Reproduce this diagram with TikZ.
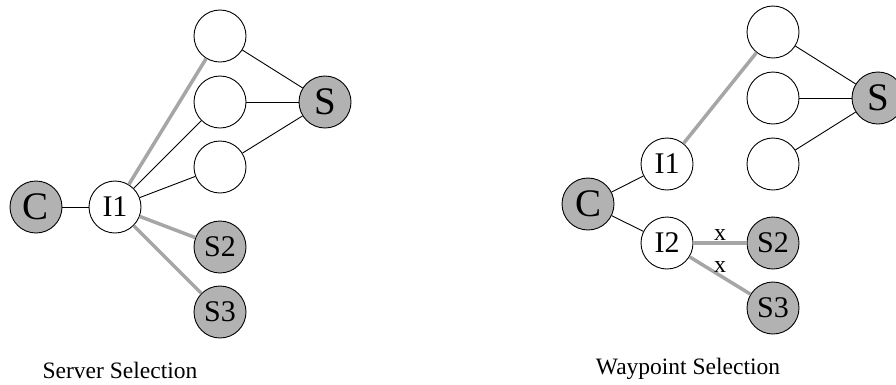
\documentclass[tikz,border=0pt]{standalone}
\usepackage{fontspec}
\setmainfont{Liberation Serif}
\begin{document}
\begin{tikzpicture}[x = 1pt, y = -1pt,
    host/.style = {circle, draw, line width = 0.9pt, minimum size = 52pt, inner sep = 0pt, font = \fontsize{30}{30}\selectfont},
    endhost/.style = {host, fill = gray!60, font = \fontsize{39}{39}\selectfont},
    server/.style = {host, fill = gray!60},
    link/.style = {line width = 0.9pt},
    path/.style = {line width = 3.5pt, gray!70},
    xmark/.style = {pos = 0.5, anchor = south, inner sep = 1pt, black, font = \fontsize{24}{24}\selectfont},
    caption/.style = {anchor = base, font = \fontsize{23.5}{23.5}\selectfont}]
            \useasboundingbox (0, 0) rectangle (896, 384);
            % server selection
            \node [endhost] (c) at (36, 207) {C};
            \node [host] (i) at (115, 207) {I1};
            \node [host] (ta) at (220, 36) {};
            \node [host] (tb) at (220, 102) {};
            \node [host] (tc) at (220, 167) {};
            \node [endhost] (s) at (325, 102) {S};
            \node [server] (sb) at (220, 247) {S2};
            \node [server] (sc) at (220, 312) {S3};
            \draw [link] (c) -- (i);
            \draw [link] (i) -- (tb);
            \draw [link] (i) -- (tc);
            \draw [path] (i) -- (ta);
            \draw [path] (i) -- (sb);
            \draw [path] (i) -- (sc);
            \foreach \t in {ta, tb, tc}
                \draw [link] (\t) -- (s);
            \node [caption] (capa) at (120, 378) {Server Selection};

            % waypoint selection
            \node [endhost] (wc) at (588, 204) {C};
            \node [host] (wi) at (667, 164) {I1};
            \node [host] (wj) at (667, 243) {I2};
            \node [host] (wta) at (773, 32) {};
            \node [host] (wtb) at (773, 98) {};
            \node [host] (wtc) at (773, 164) {};
            \node [endhost] (ws) at (878, 98) {S};
            \node [server] (wsb) at (773, 243) {S2};
            \node [server] (wsc) at (773, 308) {S3};
            \draw [link] (wc) -- (wi);
            \draw [link] (wc) -- (wj);
            \draw [path] (wi) -- (wta);
            \foreach \t in {wta, wtb, wtc}
                \draw [link] (\t) -- (ws);
            \draw [path] (wj) -- node [xmark] {x} (wsb);
            \draw [path] (wj) -- node [xmark] {x} (wsc);
            \node [caption] (capb) at (688, 374) {Waypoint Selection};
        \end{tikzpicture}
\end{document}
